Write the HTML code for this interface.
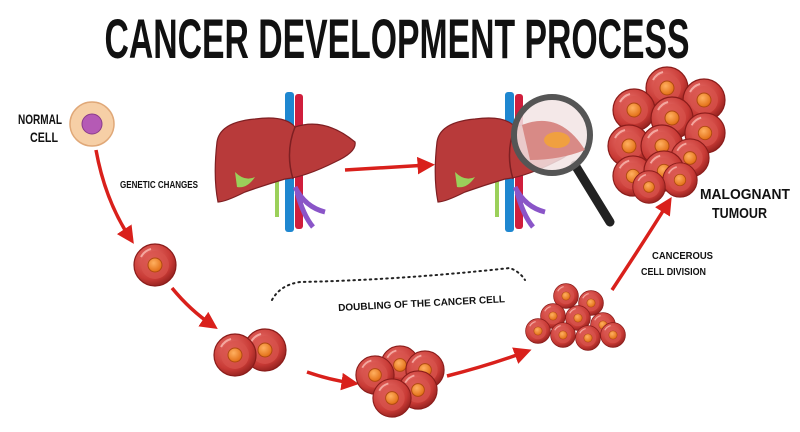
<!DOCTYPE html>
<html><head><style>body{margin:0;background:#fff}svg{display:block}</style></head><body>
<svg width="800" height="432" viewBox="0 0 800 432" xmlns="http://www.w3.org/2000/svg" font-family="Liberation Sans, sans-serif">
<defs>
<radialGradient id="cg" cx="0.4" cy="0.35" r="0.7"><stop offset="0" stop-color="#e8706a"/><stop offset="0.7" stop-color="#c83a35"/><stop offset="1" stop-color="#8e1f1c"/></radialGradient>
<radialGradient id="ng" cx="0.4" cy="0.35" r="0.7"><stop offset="0" stop-color="#ffb060"/><stop offset="1" stop-color="#e06a10"/></radialGradient>
<symbol id="cell" viewBox="-22 -22 44 44" overflow="visible">
<circle r="21" fill="url(#cg)" stroke="#8a1c1a" stroke-width="1.2"/>
<circle r="14" fill="#d7524c" opacity="0.7"/>
<circle r="7" fill="url(#ng)" stroke="#b04a10" stroke-width="1"/>
<path d="M-14 -8 A16 16 0 0 1 -4 -16" stroke="#f4a8a0" stroke-width="2" fill="none"/>
</symbol>
<marker id="ah" viewBox="0 0 10 10" refX="6" refY="5" markerWidth="5" markerHeight="5" orient="auto"><path d="M0 0L10 5L0 10z" fill="#d9201b"/></marker>
<g id="liver">
<rect x="70" y="-5" width="9" height="140" fill="#1f87d0" rx="3"/>
<rect x="80" y="-3" width="8" height="135" fill="#d01e3c" rx="3"/>
<path d="M62 60 L62 120" stroke="#9bd05a" stroke-width="4"/>
<path d="M80 90 Q90 110 110 115 M82 95 Q88 118 98 130" stroke="#8a55c8" stroke-width="5" fill="none"/>
<path d="M2 45 Q5 25 40 22 Q70 18 80 30 Q110 20 140 45 Q142 55 120 65 Q90 80 70 82 Q50 88 30 95 Q10 105 3 105 Q-2 80 2 45z" fill="#b83a3a" stroke="#7e1f22" stroke-width="1.2"/>
<path d="M80 30 Q70 55 78 82" stroke="#7e1f22" stroke-width="1.5" fill="none"/>
<path d="M20 75 Q30 85 40 80 Q32 92 22 90z" fill="#9bd05a"/>
</g>
</defs>
<text x="397" y="58" font-size="56" font-weight="bold" text-anchor="middle" textLength="585" lengthAdjust="spacingAndGlyphs" fill="#111">CANCER DEVELOPMENT PROCESS</text>
<path d="M272 300 Q280 285 300 282 Q400 280 510 268 Q520 272 525 280" stroke="#222" stroke-width="2" stroke-dasharray="1.5 4" stroke-linecap="round" fill="none"/>
<circle cx="92" cy="124" r="22" fill="#f6cfa6" stroke="#e0a878" stroke-width="1.5"/>
<circle cx="92" cy="124" r="10" fill="#b55ab5" stroke="#8a3c8a"/>
<g stroke="#d9201b" stroke-width="3.5" fill="none" marker-end="url(#ah)">
<path d="M96 150 Q105 200 130 238"/>
<path d="M172 288 Q190 310 212 325"/>
<path d="M307 372 Q330 380 352 383"/>
<path d="M447 376 Q490 365 525 352"/>
<path d="M612 290 Q645 240 668 203"/>
<path d="M345 170 L428 165"/>
</g>
<use href="#liver" x="215" y="97"/>
<use href="#liver" x="435" y="97"/>
<path d="M575 165 L610 222" stroke="#222" stroke-width="9" stroke-linecap="round"/>
<circle cx="552" cy="135" r="38" fill="#f2e4e4" fill-opacity="0.85" stroke="#555" stroke-width="6"/>
<path d="M522 125 Q560 110 585 150 Q560 160 530 160z" fill="#d88a86"/>
<ellipse cx="557" cy="140" rx="13" ry="8" fill="#f0a040"/>
<use href="#cell" x="133" y="243" width="44" height="44"/>
<use href="#cell" x="243" y="328" width="44" height="44"/>
<use href="#cell" x="213" y="333" width="44" height="44"/>
<use href="#cell" x="380" y="345" width="40" height="40"/>
<use href="#cell" x="405" y="350" width="40" height="40"/>
<use href="#cell" x="355" y="355" width="40" height="40"/>
<use href="#cell" x="398" y="370" width="40" height="40"/>
<use href="#cell" x="372" y="378" width="40" height="40"/>
<g>
<use href="#cell" x="553" y="283" width="26" height="26"/>
<use href="#cell" x="578" y="290" width="26" height="26"/>
<use href="#cell" x="540" y="303" width="26" height="26"/>
<use href="#cell" x="565" y="305" width="26" height="26"/>
<use href="#cell" x="590" y="312" width="26" height="26"/>
<use href="#cell" x="525" y="318" width="26" height="26"/>
<use href="#cell" x="550" y="322" width="26" height="26"/>
<use href="#cell" x="575" y="325" width="26" height="26"/>
<use href="#cell" x="600" y="322" width="26" height="26"/>
</g>
<g>
<use href="#cell" x="645" y="66" width="44" height="44"/>
<use href="#cell" x="682" y="78" width="44" height="44"/>
<use href="#cell" x="612" y="88" width="44" height="44"/>
<use href="#cell" x="650" y="96" width="44" height="44"/>
<use href="#cell" x="684" y="112" width="42" height="42"/>
<use href="#cell" x="607" y="124" width="44" height="44"/>
<use href="#cell" x="640" y="124" width="44" height="44"/>
<use href="#cell" x="670" y="138" width="40" height="40"/>
<use href="#cell" x="612" y="155" width="42" height="42"/>
<use href="#cell" x="643" y="150" width="42" height="42"/>
<use href="#cell" x="662" y="162" width="36" height="36"/>
<use href="#cell" x="632" y="170" width="34" height="34"/>
</g>
<g font-weight="bold" fill="#111">
<text x="18" y="124" font-size="14" textLength="44" lengthAdjust="spacingAndGlyphs">NORMAL</text><text x="30" y="142" font-size="14" textLength="28" lengthAdjust="spacingAndGlyphs">CELL</text>
<text x="120" y="188" font-size="10" textLength="78" lengthAdjust="spacingAndGlyphs">GENETIC CHANGES</text>
<text x="700" y="199" font-size="15" textLength="90" lengthAdjust="spacingAndGlyphs">MALOGNANT</text><text x="712" y="218" font-size="15" textLength="55" lengthAdjust="spacingAndGlyphs">TUMOUR</text>
<text x="652" y="259" font-size="10" textLength="61" lengthAdjust="spacingAndGlyphs">CANCEROUS</text><text x="641" y="275" font-size="10" textLength="65" lengthAdjust="spacingAndGlyphs">CELL DIVISION</text>
<text x="338" y="308" font-size="10" textLength="167" lengthAdjust="spacingAndGlyphs" transform="rotate(-3 395 303)">DOUBLING OF THE CANCER CELL</text>
</g>
</svg>
</body></html>
